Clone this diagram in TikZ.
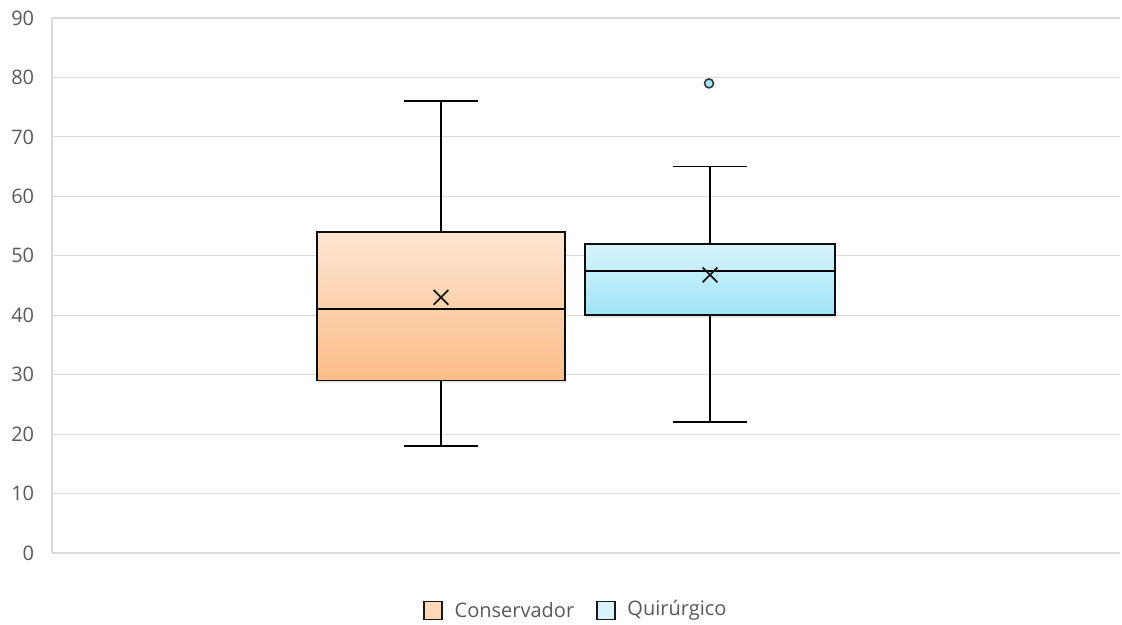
\documentclass[tikz,border=0pt]{standalone}
\usepackage{fontspec}
\setmainfont{Open Sans}
\usetikzlibrary{positioning,shapes.misc,shadows}
\definecolor{gridgray}{HTML}{D9D9D9}
\definecolor{labelgray}{HTML}{595959}
\definecolor{constop}{HTML}{FDE5D2}
\definecolor{consbot}{HTML}{FBBD88}
\definecolor{quirtop}{HTML}{D8F3FB}
\definecolor{quirbot}{HTML}{9FE5F8}
\begin{document}
\begin{tikzpicture}[x=1pt,y=5.944pt,line width=1.7pt,
    grid line/.style={draw=gridgray,line width=1.1pt},
    tick label/.style={anchor=east,text=labelgray,font=\fontsize{20}{24}\selectfont,inner sep=0pt},
    box/.style={draw=black!95,inner sep=0pt,drop shadow={shadow xshift=1pt,shadow yshift=-2.5pt,opacity=0.18}},
    mean mark/.style={cross out,draw=black!90,minimum size=13pt,inner sep=0pt,line width=1.7pt},
    leg box/.style={draw=black!90,minimum size=18pt,inner sep=0pt,line width=1.6pt},
    leg text/.style={text=labelgray,font=\fontsize{20}{24}\selectfont,inner sep=0pt}]
                \useasboundingbox (0,-12.113) rectangle (1122,93.035);

                % grid and axis
                \foreach \v in {0,10,...,90} {
                    \draw[grid line] (52,\v) -- (1120,\v);
                    \node[tick label] at (35,\v) {\v};
                }
                \draw[grid line] (52,0) -- (52,90);

                % Conservador
                \node[box,top color=constop,bottom color=consbot,minimum width=248pt,minimum height=148.6pt] at (441,41.5) (cons) {};
                \coordinate (cons max) at (441,76);
                \coordinate (cons min) at (441,18);
                \draw (cons.west |- 0,41) -- (cons.east |- 0,41);
                \draw (cons.north) -- (cons max);
                \draw (cons.south) -- (cons min);
                \draw ([xshift=-37pt]cons max) -- ([xshift=37pt]cons max);
                \draw ([xshift=-37pt]cons min) -- ([xshift=37pt]cons min);
                \node[mean mark] at (441,43) (cons mean) {};

                % Quirurgico
                \node[box,top color=quirtop,bottom color=quirbot,minimum width=250pt,minimum height=71.3pt] at (710,46) (quir) {};
                \coordinate (quir max) at (710,65);
                \coordinate (quir min) at (710,22);
                \draw (quir.west |- 0,47.4) -- (quir.east |- 0,47.4);
                \draw (quir.north) -- (quir max);
                \draw (quir.south) -- (quir min);
                \draw ([xshift=-37pt]quir max) -- ([xshift=37pt]quir max);
                \draw ([xshift=-37pt]quir min) -- ([xshift=37pt]quir min);
                \node[mean mark] at (710,46.8) (quir mean) {};
                \node[circle,draw=black!80,fill=quirbot,minimum size=9pt,inner sep=0pt,line width=1.5pt] at (709,79) (quir out) {};

                % legend
                \node[leg box,fill=consbot!60] at (433,-9.67) (leg cons) {};
                \node[leg text,right=11pt of leg cons] (leg cons text) {Conservador};
                \node[leg box,fill=quirtop,right=21pt of leg cons text] (leg quir) {};
                \node[leg text,right=11pt of leg quir] (leg quir text) {Quirúrgico};
            \end{tikzpicture}
\end{document}
